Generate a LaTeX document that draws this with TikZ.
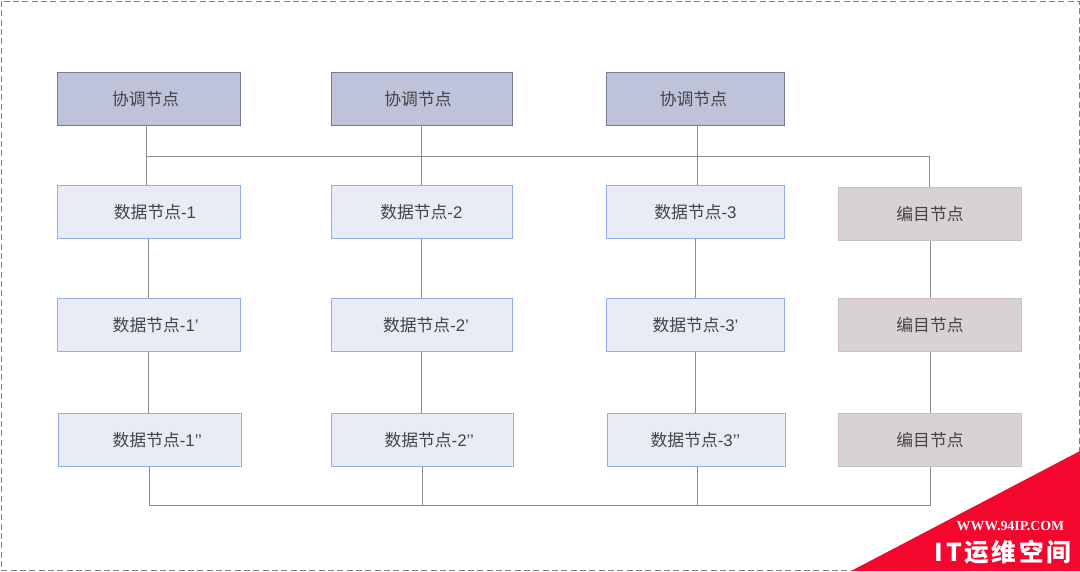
\documentclass[tikz,border=0pt]{standalone}
\usepackage{fontspec}
\setmainfont{Liberation Sans}
\newfontfamily\cjk{Noto Sans CJK SC}
\newfontfamily\cjkwide[LetterSpace=11]{Noto Sans CJK SC}
\newfontfamily\markfont{Liberation Serif}
\usepackage{xcolor}
\usetikzlibrary{positioning}
\definecolor{coordfill}{HTML}{BEC3D9}
\definecolor{coordline}{HTML}{6F7A9E}
\definecolor{datafill}{HTML}{E8ECF7}
\definecolor{dataline}{HTML}{8FB0E8}
\definecolor{catfill}{HTML}{D9D2D3}
\definecolor{catline}{HTML}{C9C1C5}
\definecolor{inkgray}{HTML}{444444}
\definecolor{markred}{HTML}{F5062D}
% text sits a little off centre in some boxes
\newcommand{\nudged}[2]{\hspace*{#1}#2}
\newcommand{\datatext}{{\cjk 数据节点}}

\begin{document}
\begin{tikzpicture}[
  x=0.75pt,y=-0.75pt,
  font=\fontsize{12.6pt}{15pt}\selectfont,
  text=inkgray,
  box/.style={draw,line width=0.6pt,minimum height=40pt,inner sep=0pt},
  coordbox/.style={box,fill=coordfill,draw=coordline},
  databox/.style={box,fill=datafill,draw=dataline},
  catbox/.style={box,fill=catfill,draw=catline,minimum width=137.5pt},
  link/.style={draw=black!45,line width=0.75pt}
]
\useasboundingbox (0,0) rectangle (1080,571);
\draw[black!50,line width=0.75pt,dash pattern=on 4.5pt off 2.5pt] (1,1) rectangle (1079,570);

\node[coordbox,minimum width=137.5pt] (coord1) at (149,99) {\nudged{-5pt}{\cjk 协调节点}};
\node[coordbox,minimum width=136pt] (coord2) at (422,99) {\nudged{-6pt}{\cjk 协调节点}};
\node[coordbox,minimum width=133.5pt] (coord3) at (695.5,99) {\nudged{-3pt}{\cjk 协调节点}};

\node[databox,minimum width=137.5pt] (data1) at (149,212) {\nudged{9pt}{\datatext-1}};
\node[databox,minimum width=136pt] (data2) at (422,212) {\nudged{-1pt}{\datatext-2}};
\node[databox,minimum width=133.5pt] (data3) at (695.5,212) {\datatext-3};
\node[catbox] (cat1) at (930,214) {\cjk 编目节点};

\node[databox,minimum width=137.5pt,below=44.25pt of data1] (data1a) {\nudged{10pt}{\datatext-1'}};
\node[databox,minimum width=136pt,below=44.25pt of data2] (data2a) {\nudged{6pt}{\datatext-2'}};
\node[databox,minimum width=133.5pt,below=44.25pt of data3] (data3a) {\datatext-3'};
\node[catbox] (cat2) at (930,325) {\cjk 编目节点};

\node[databox,minimum width=137.5pt] (data1b) at (150,440) {\nudged{11pt}{\datatext-1{'}{'}}};
\node[databox,minimum width=136.5pt] (data2b) at (422.5,440) {\nudged{10pt}{\datatext-2{'}{'}}};
\node[databox,minimum width=133.5pt] (data3b) at (696,440) {\nudged{-1pt}{\datatext-3{'}{'}}};
\node[catbox] (cat3) at (930,440) {\cjk 编目节点};

\coordinate (topleft) at (146,156);
\coordinate (topmid) at (421,156);
\coordinate (topthird) at (697,156);
\coordinate (topright) at (929,156);
\coordinate (botleft) at (149,505);
\coordinate (botmid) at (422,505);
\coordinate (botthird) at (697,505);
\coordinate (botright) at (930,505);

\draw[link] (coord1.south -| topleft) -- (data1.north -| topleft);
\draw[link] (coord2.south -| topmid) -- (data2.north -| topmid);
\draw[link] (coord3.south -| topthird) -- (data3.north -| topthird);
\draw[link] (topleft) -- (topright) -- (cat1.north -| topright);

\draw[link] ([xshift=-0.75pt]data1.south) -- ([xshift=-0.75pt]data1a.north);
\draw[link] ([xshift=-0.75pt]data1a.south) -- ([xshift=-1.5pt]data1b.north);
\draw[link] (data2.south -| topmid) -- (data2a.north -| topmid);
\draw[link] (data2a.south -| topmid) -- (data2b.north -| topmid);
\draw[link] (data3.south) -- (data3a.north);
\draw[link] (data3a.south) -- (data3b.north -| data3a);
\draw[link] (cat1) -- (cat2);
\draw[link] (cat2) -- (cat3);

\draw[link] (data1b.south -| botleft) -- (botleft) -- (botright) -- (cat3.south -| botright);
\draw[link] (data2b.south -| botmid) -- (botmid);
\draw[link] (data3b.south -| botthird) -- (botthird);

% corner mark
\fill[markred] (1080,451) -- (1080,571) -- (851,571) -- cycle;
\node[text=white,inner sep=0pt,font=\markfont\bfseries\fontsize{10.4pt}{12pt}\selectfont] (marksite) at (1010.5,526) {WWW.94IP.COM};
\node[text=white,inner sep=0pt,font=\cjkwide\bfseries\fontsize{18.5pt}{22pt}\selectfont] (markname) at (1003,552) {IT运维空间};
\end{tikzpicture}
\end{document}
